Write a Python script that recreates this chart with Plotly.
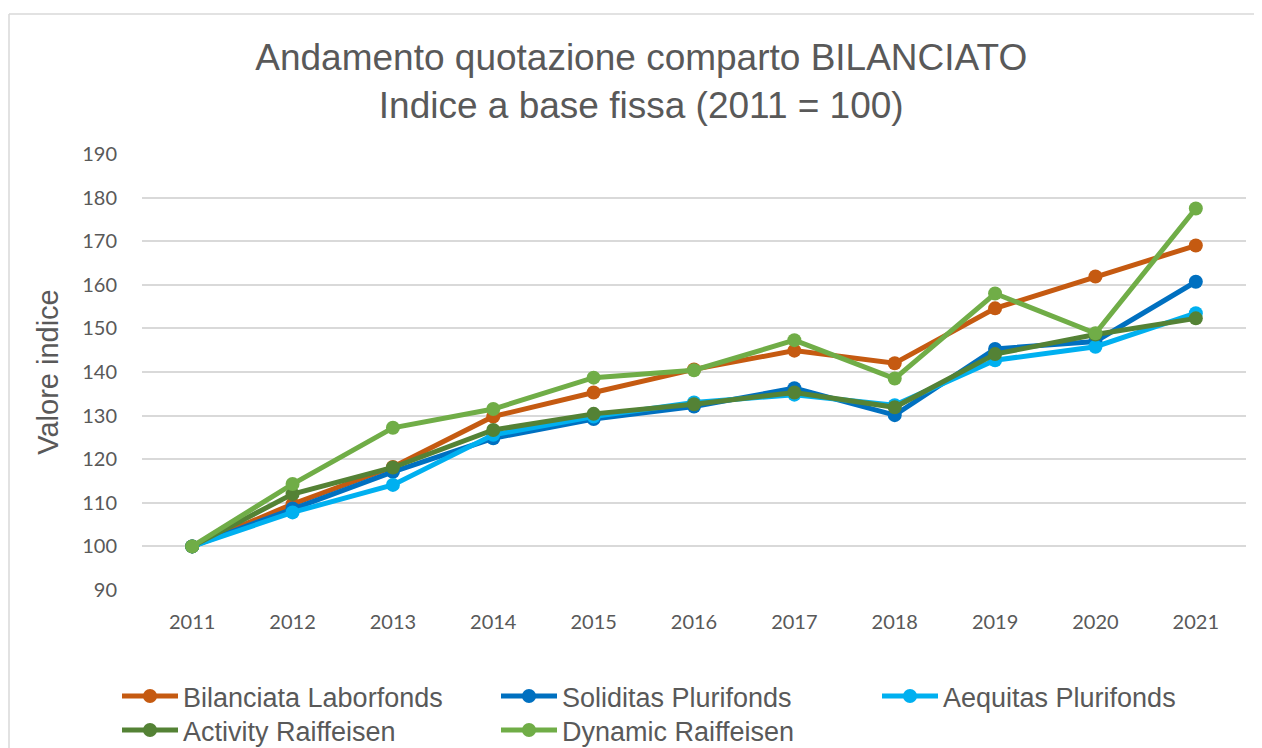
import plotly.graph_objects as go

years = ["2011", "2012", "2013", "2014", "2015", "2016", "2017", "2018", "2019", "2020", "2021"]

bilanciata_laborfonds = [100, 109.7, 118.2, 129.8, 135.3, 140.6, 144.9, 142.0, 154.6, 161.9, 169.0]
soliditas_plurifonds = [100, 108.7, 117.1, 124.8, 129.2, 132.1, 136.3, 130.1, 145.3, 147.0, 160.7]
aequitas_plurifonds = [100, 107.8, 114.1, 125.6, 129.8, 133.0, 134.8, 132.4, 142.7, 145.8, 153.5]
activity_raiffeisen = [100, 112.0, 118.1, 126.7, 130.4, 132.6, 135.3, 131.9, 144.1, 148.6, 152.3]
dynamic_raiffeisen = [100, 114.3, 127.2, 131.5, 138.7, 140.4, 147.3, 138.5, 158.0, 148.9, 177.5]

series = [
    ("Bilanciata Laborfonds", bilanciata_laborfonds, "#C55A11", "legend"),
    ("Soliditas Plurifonds", soliditas_plurifonds, "#0070C0", "legend"),
    ("Aequitas Plurifonds", aequitas_plurifonds, "#00B0F0", "legend2"),
    ("Activity Raiffeisen", activity_raiffeisen, "#548235", "legend3"),
    ("Dynamic Raiffeisen", dynamic_raiffeisen, "#70AD47", "legend3"),
]

fig = go.Figure()
for name, vals, color, lg in series:
    fig.add_trace(go.Scatter(
        x=years, y=vals, name=name, mode="lines+markers",
        line=dict(color=color, width=5),
        marker=dict(color=color, size=14),
        legend=lg,
    ))

W, H = 1254, 740
L, R, T, B = 134, 16, 146, 158
PW, PH = W - L - R, H - T - B

legend_font = dict(family="Liberation Sans, Arial", size=27, color="#595959")


def legend_at(x_px, y_px):
    return dict(
        orientation="h", xref="container", yref="container",
        x=x_px / W, xanchor="left", y=1 - y_px / H, yanchor="top",
        font=legend_font, entrywidth=308, entrywidthmode="pixels",
        itemwidth=56, bgcolor="rgba(0,0,0,0)",
    )


border = dict(color="#D9D9D9", width=1.5)
bx = (1 - L) / PW
by = (T + PH - 6) / PH

fig.update_layout(
    width=W, height=H,
    margin=dict(l=L, r=R, t=T, b=B, autoexpand=False),
    paper_bgcolor="white", plot_bgcolor="white",
    title=dict(
        text="Andamento quotazione comparto BILANCIATO<br>Indice a base fissa (2011 = 100)",
        x=0.505, xanchor="center", xref="container", y=1 - 62 / H, yanchor="top", yref="container",
        font=dict(family="Liberation Sans, Arial", size=37, color="#595959"),
    ),
    xaxis=dict(
        type="category", range=[-0.5, 10.5], showgrid=False, showline=False, zeroline=False,
        ticks="", tickfont=dict(family="Lato, Open Sans", size=20, color="#595959"),
        ticklabelstandoff=18,
    ),
    yaxis=dict(
        range=[90, 190], dtick=10, showgrid=True, gridcolor="#D9D9D9", gridwidth=1.5,
        zeroline=False, showline=False, ticks="",
        tickfont=dict(family="Lato, Open Sans", size=20, color="#595959"),
        ticklabelstandoff=24,
        title=dict(text="Valore indice", standoff=15,
                   font=dict(family="Liberation Sans, Arial", size=29, color="#595959")),
    ),
    legend=legend_at(109, 664),
    legend2=legend_at(869, 664),
    legend3=legend_at(109, 698),
    shapes=[
        dict(type="line", xref="paper", yref="paper", x0=bx, x1=1.2, y0=by, y1=by,
             line=border, layer="below"),
        dict(type="line", xref="paper", yref="paper", x0=bx, x1=bx, y0=-0.5, y1=by,
             line=border, layer="below"),
    ],
)

fig.write_html("out.html")
